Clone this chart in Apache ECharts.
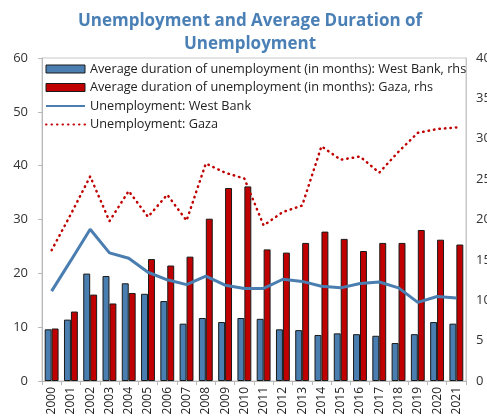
<!DOCTYPE html>
<html>
<head>
<meta charset="utf-8">
<script src="https://cdn.jsdelivr.net/npm/echarts@6/dist/echarts.min.js"></script>
<style>
  html, body { margin: 0; padding: 0; background: #fff; }
  #chart { width: 487px; height: 417px; }
</style>
</head>
<body>
<div id="chart"></div>
<script>
var years = ['2000', '2001', '2002', '2003', '2004', '2005', '2006', '2007', '2008', '2009', '2010',
  '2011', '2012', '2013', '2014', '2015', '2016', '2017', '2018', '2019', '2020', '2021']
// average duration of unemployment, months (rhs)
var durationWB = [6.4, 7.6, 13.3, 13.0, 12.1, 10.8, 9.9, 7.1, 7.8, 7.3, 7.8,
  7.7, 6.4, 6.3, 5.7, 5.9, 5.8, 5.6, 4.7, 5.8, 7.3, 7.1]
var durationGaza = [6.5, 8.6, 10.7, 9.6, 10.9, 15.1, 14.3, 15.4, 20.1, 23.9, 24.1,
  16.3, 15.9, 17.1, 18.5, 17.6, 16.1, 17.1, 17.1, 18.7, 17.5, 16.9]
// unemployment rate, percent (lhs)
var unempWB = [16.7, 22.4, 28.2, 23.8, 22.8, 20.2, 18.8, 17.9, 19.5, 17.8, 17.2,
  17.2, 18.9, 18.5, 17.6, 17.3, 18.1, 18.4, 17.3, 14.6, 15.7, 15.4]
var unempGaza = [24.3, 31.0, 38.0, 29.7, 35.3, 30.5, 34.6, 29.8, 40.4, 38.7, 37.6,
  28.9, 31.4, 32.6, 43.6, 41.1, 41.7, 38.7, 42.6, 46.1, 46.8, 47.1]

var blue = '#4a7eb0'
var red = '#c00000'
var nameWB = 'Average duration of unemployment (in months): West Bank, rhs'
var nameGaza = 'Average duration of unemployment (in months): Gaza, rhs'

var chart = echarts.init(document.getElementById('chart'))
chart.setOption({
  animation: false,
  title: {
    text: 'Unemployment and Average Duration of\nUnemployment',
    left: 245,
    textAlign: 'center',
    top: 5,
    textStyle: {
      color: '#4a80b6',
      fontSize: 17,
      fontWeight: 'bold',
      fontFamily: 'Open Sans',
      lineHeight: 23,
    },
  },
  legend: {
    orient: 'vertical',
    left: 40,
    top: 56,
    itemWidth: 39,
    itemHeight: 8,
    itemGap: 2.5,
    textStyle: { fontSize: 12.7, color: '#222', fontFamily: 'Open Sans', lineHeight: 16 },
    data: [
      { name: nameWB, icon: 'rect', itemStyle: { borderColor: '#1a1a1a', borderWidth: 1 } },
      { name: nameGaza, icon: 'rect', itemStyle: { borderColor: '#1a1a1a', borderWidth: 1 } },
      { name: 'Unemployment: West Bank', itemStyle: { opacity: 0 } },
      { name: 'Unemployment: Gaza', itemStyle: { opacity: 0 } },
    ],
  },
  grid: {
    left: 42,
    right: 21,
    top: 58,
    bottom: 36,
    outerBoundsMode: 'none',
    show: true,
    borderColor: '#c8c8c8',
    borderWidth: 1,
  },
  xAxis: {
    type: 'category',
    data: years,
    axisLine: { lineStyle: { color: '#b8b8b8' } },
    axisTick: { show: true, lineStyle: { color: '#b8b8b8' }, length: 4 },
    axisLabel: {
      rotate: 90,
      interval: 0,
      fontSize: 12,
      color: '#222',
      fontFamily: 'Open Sans',
      margin: 6,
    },
  },
  yAxis: [
    {
      type: 'value',
      min: 0,
      max: 60,
      interval: 10,
      splitLine: { show: false },
      axisLine: { show: true, lineStyle: { color: '#b8b8b8' } },
      axisTick: { show: true, lineStyle: { color: '#b8b8b8' }, length: 4 },
      axisLabel: { fontSize: 13, color: '#333', fontFamily: 'Open Sans', margin: 14 },
    },
    {
      type: 'value',
      min: 0,
      max: 40,
      interval: 5,
      splitLine: { show: false },
      axisLine: { show: true, lineStyle: { color: '#c8c8c8' } },
      axisTick: { show: false },
      axisLabel: { fontSize: 13, color: '#333', fontFamily: 'Open Sans', margin: 10 },
    },
  ],
  series: [
    {
      name: nameWB,
      type: 'bar',
      yAxisIndex: 1,
      data: durationWB,
      barGap: '0%',
      barCategoryGap: '28%',
      itemStyle: { color: blue, borderColor: '#1a1a1a', borderWidth: 1 },
    },
    {
      name: nameGaza,
      type: 'bar',
      yAxisIndex: 1,
      data: durationGaza,
      itemStyle: { color: red, borderColor: '#1a1a1a', borderWidth: 1 },
    },
    {
      name: 'Unemployment: West Bank',
      type: 'line',
      yAxisIndex: 0,
      data: unempWB,
      showSymbol: false,
      symbol: 'none',
      lineStyle: { color: blue, width: 3 },
      itemStyle: { color: blue },
    },
    {
      name: 'Unemployment: Gaza',
      type: 'line',
      yAxisIndex: 0,
      data: unempGaza,
      showSymbol: false,
      symbol: 'none',
      lineStyle: { color: red, width: 2.5, type: [0.5, 5], cap: 'round' },
      itemStyle: { color: red },
    },
  ],
})
</script>
</body>
</html>
